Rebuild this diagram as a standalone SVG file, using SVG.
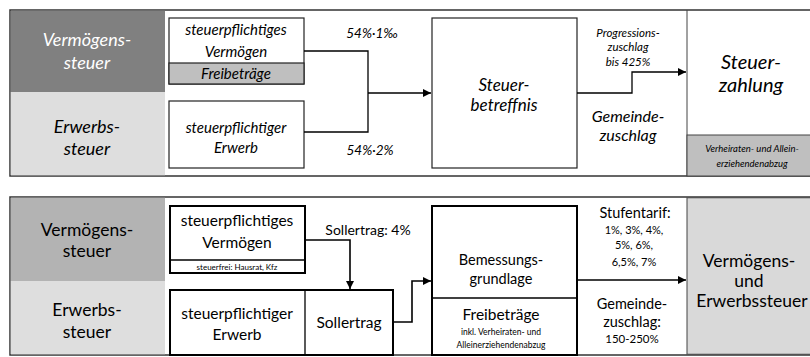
<svg xmlns="http://www.w3.org/2000/svg" width="810" height="357" viewBox="0 0 810 357">
<defs>
<style>
text{font-family:Lato,"Liberation Sans",sans-serif;text-anchor:middle;fill:#000}
.it{font-style:italic}
.w{fill:#fff}
.box1{fill:#fff;stroke:#222;stroke-width:1.2}
.box2{fill:#fff;stroke:#000;stroke-width:2}
.frame{fill:#fff;stroke:#333;stroke-width:1.5}
.conn{fill:none;stroke:#000;stroke-width:1.3}
.connb{fill:none;stroke:#000;stroke-width:1.6}
</style>
<marker id="ah" viewBox="0 0 10 10" refX="10" refY="5" markerWidth="8" markerHeight="8" markerUnits="userSpaceOnUse" orient="auto"><path d="M0,0L10,5L0,10z" fill="#000"/></marker>
</defs>

<!-- TOP PANEL -->
<g id="top-frame"><rect class="frame" x="10" y="10" width="803" height="166"/></g>
<g id="top-verm-label"><rect x="10.75" y="10.75" width="154.25" height="81.25" fill="#808080"/>
<text class="it w" x="87" y="46" font-size="18">Vermögens-</text><text class="it w" x="87" y="69" font-size="18">steuer</text></g>
<g id="top-erw-label"><rect x="10.75" y="92" width="154.25" height="83.25" fill="#dedede"/>
<text class="it" x="87" y="133" font-size="18">Erwerbs-</text><text class="it" x="87" y="155" font-size="18">steuer</text></g>
<g id="top-vermoegen"><rect class="box1" x="169" y="18" width="135" height="66"/>
<rect x="169" y="63" width="135" height="21" fill="#bfbfbf" stroke="#222" stroke-width="1.2"/>
<text class="it" x="236" y="35" font-size="15">steuerpflichtiges</text><text class="it" x="236" y="57" font-size="15">Vermögen</text>
<text class="it" x="236" y="79" font-size="15">Freibeträge</text></g>
<g id="top-erwerb"><rect class="box1" x="169" y="101" width="135" height="67"/>
<text class="it" x="236" y="133" font-size="15">steuerpflichtiger</text><text class="it" x="236" y="153" font-size="15">Erwerb</text></g>
<g id="top-betreffnis"><rect class="box1" x="432" y="18" width="145" height="150"/>
<text class="it" x="504" y="91" font-size="17">Steuer-</text><text class="it" x="504" y="111" font-size="17">betreffnis</text></g>
<g id="top-zahlung"><line x1="687" y1="10" x2="687" y2="176" stroke="#444" stroke-width="1"/>
<rect x="687" y="135" width="126" height="41" fill="#bfbfbf" stroke="#444" stroke-width="1"/>
<text class="it" x="751" y="69" font-size="20">Steuer-</text><text class="it" x="751" y="92" font-size="20">zahlung</text>
<text class="it" x="752" y="152" font-size="9.5">Verheiraten- und Allein-</text><text class="it" x="752" y="167" font-size="9.5">erziehendenabzug</text></g>
<g id="top-labels">
<text class="it" x="372" y="38" font-size="13.5">54%·1‰</text>
<text class="it" x="370" y="155" font-size="13.5">54%·2%</text>
<text class="it" x="628" y="37" font-size="11.5">Progressions-</text><text class="it" x="628" y="51" font-size="11.5">zuschlag</text><text class="it" x="628" y="66" font-size="11.5">bis 425%</text>
<text class="it" x="628" y="122" font-size="16">Gemeinde-</text><text class="it" x="628" y="141" font-size="16">zuschlag</text>
</g>
<g id="top-connectors">
<path class="conn" d="M304,51H368V132H304"/>
<path class="conn" d="M368,93H431" marker-end="url(#ah)"/>
<path class="conn" d="M577,93H632V72H686" marker-end="url(#ah)"/>
</g>

<!-- BOTTOM PANEL -->
<g id="bot-frame"><rect class="frame" x="10" y="197" width="803" height="158"/></g>
<g id="bot-verm-label"><rect x="10.75" y="197.75" width="154.25" height="83.25" fill="#b3b3b3"/>
<text x="87" y="236" font-size="17.5">Vermögens-</text><text x="87" y="257" font-size="17.5">steuer</text></g>
<g id="bot-erw-label"><rect x="10.75" y="281" width="154.25" height="73.25" fill="#dedede"/>
<text x="87" y="316" font-size="17.5">Erwerbs-</text><text x="87" y="338" font-size="17.5">steuer</text></g>
<g id="bot-vermoegen"><rect class="box2" x="170" y="206" width="135" height="67"/>
<line x1="170" y1="260" x2="305" y2="260" stroke="#000" stroke-width="1.3"/>
<text x="237" y="226" font-size="15.5">steuerpflichtiges</text><text x="237" y="248" font-size="15.5">Vermögen</text>
<text x="237" y="270" font-size="8">steuerfrei: Hausrat, Kfz</text></g>
<g id="bot-erwerb"><rect class="box2" x="170" y="290" width="223" height="65"/>
<line x1="305" y1="290" x2="305" y2="355" stroke="#000" stroke-width="1.3"/>
<text x="237" y="319" font-size="15.5">steuerpflichtiger</text><text x="237" y="340" font-size="15.5">Erwerb</text>
<text x="349" y="328" font-size="15.5">Sollertrag</text></g>
<g id="bot-bemessung"><rect class="box2" x="432" y="206" width="145" height="149"/>
<line x1="432" y1="298" x2="577" y2="298" stroke="#000" stroke-width="1.3"/>
<text x="501" y="265" font-size="14.5">Bemessungs-</text><text x="501" y="284" font-size="14.5">grundlage</text>
<text x="501" y="320" font-size="15.5">Freibeträge</text>
<text x="501" y="335" font-size="8.5">inkl. Verheiraten- und</text><text x="501" y="348" font-size="8.5">Alleinerziehendenabzug</text></g>
<g id="bot-ergebnis"><rect x="687" y="197.75" width="126" height="156.5" fill="#d9d9d9" stroke="#444" stroke-width="1"/>
<text x="749" y="267" font-size="17.5">Vermögens-</text><text x="749" y="287" font-size="17.5">und</text><text x="752" y="307" font-size="17.5">Erwerbssteuer</text></g>
<g id="bot-labels">
<text x="368" y="235" font-size="14">Sollertrag: 4%</text>
<text x="635" y="218" font-size="14.5">Stufentarif:</text>
<text x="634" y="234" font-size="11">1%, 3%, 4%,</text><text x="634" y="249" font-size="11">5%, 6%,</text><text x="634" y="266" font-size="11">6,5%, 7%</text>
<text x="632" y="309" font-size="14.5">Gemeinde-</text><text x="632" y="327" font-size="14.5">zuschlag:</text>
<text x="632" y="343" font-size="11.5">150-250%</text>
</g>
<g id="bot-connectors">
<path class="connb" d="M305,240H350V289" marker-end="url(#ah)"/>
<path class="connb" d="M393,322H412V281H431" marker-end="url(#ah)"/>
<path class="connb" d="M577,280H686" marker-end="url(#ah)"/>
</g>
</svg>
